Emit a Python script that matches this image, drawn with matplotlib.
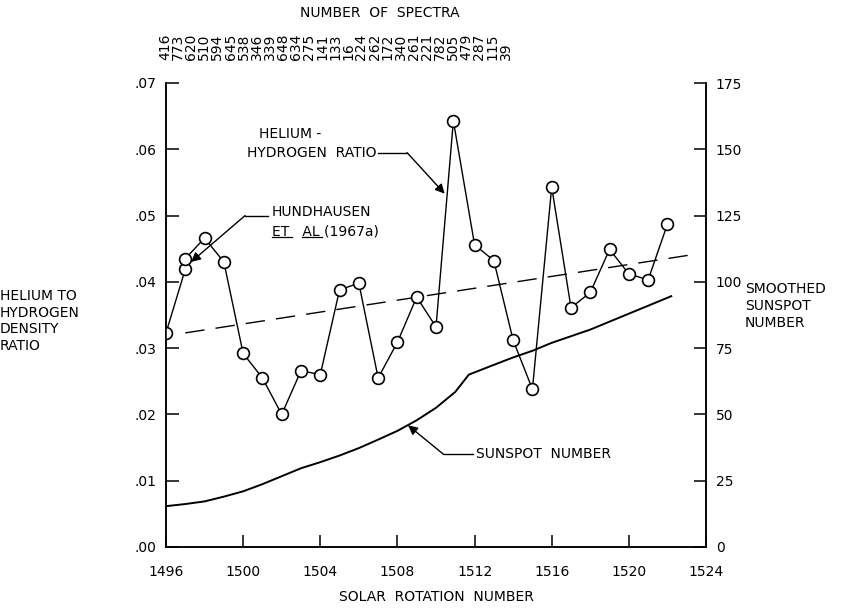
import matplotlib
matplotlib.use("Agg")
import matplotlib.pyplot as plt
import numpy as np

# helium / hydrogen ratio per solar rotation (two points at 1497)
rot = [1496, 1497, 1497, 1498, 1499, 1500, 1501, 1502, 1503, 1504, 1505, 1506, 1507,
       1508, 1509, 1510, 1510.9, 1512, 1513, 1514, 1515, 1516, 1517, 1518, 1519, 1520,
       1521, 1522]
ratio = [0.0323, 0.0419, 0.0435, 0.0466, 0.0430, 0.0292, 0.0255, 0.0200, 0.0266, 0.0260,
         0.0388, 0.0398, 0.0255, 0.0309, 0.0377, 0.0332, 0.0643, 0.0456, 0.0432, 0.0312,
         0.0238, 0.0543, 0.0361, 0.0384, 0.0449, 0.0412, 0.0403, 0.0487]

# smoothed sunspot number (right axis)
ss_rot = [1496, 1497, 1498, 1499, 1500, 1501, 1502, 1503, 1504, 1505, 1506, 1507, 1508,
          1509, 1510, 1511, 1511.7, 1513, 1514, 1515, 1516, 1517, 1518, 1519, 1520, 1521,
          1522.2]
sunspot = [15.4, 16.2, 17.2, 19.0, 21.0, 23.7, 26.7, 29.7, 32.0, 34.5, 37.3, 40.5, 43.8,
           47.8, 52.5, 58.5, 65.0, 68.7, 71.5, 74.0, 77.0, 79.5, 82.0, 85.0, 88.0, 91.0,
           94.6]

# Hundhausen et al (1967a) trend
hund_rot = [1497, 1523.3]
hund_ratio = [0.0323, 0.0441]

spectra = ["416", "773", "620", "510", "594", "645", "538", "346", "339", "648", "634",
           "275", "141", "133", "16", "224", "262", "172", "340", "261", "221", "782",
           "505", "479", "287", "115", "39"]

x_ticks = [1496, 1500, 1504, 1508, 1512, 1516, 1520, 1524]
left_ticks = [0.0, 0.01, 0.02, 0.03, 0.04, 0.05, 0.06, 0.07]
right_ticks = [0, 25, 50, 75, 100, 125, 150, 175]

W, H = 844, 611
fs = 10
plt.rcParams['font.family'] = 'DejaVu Sans'
plt.rcParams['font.size'] = fs


def fx(px):
    return px / W


def fy(py):
    return 1 - py / H


fig = plt.figure(figsize=(W / 100, H / 100), dpi=100)
ax = fig.add_axes([fx(166), fy(547), fx(706) - fx(166), fy(83) - fy(547)])
ax2 = ax.twinx()

ax.set_xlim(1496, 1524)
ax.set_ylim(0, 0.07)
ax2.set_ylim(0, 175)

for a in (ax, ax2):
    a.spines['top'].set_visible(False)
    for s in a.spines.values():
        s.set_linewidth(1.1)

ax.set_xticks(x_ticks)
ax.set_xticklabels([str(t) for t in x_ticks])
ax.set_yticks(left_ticks)
ax.set_yticklabels(['.%02d' % round(t * 100) for t in left_ticks])
ax2.set_yticks(right_ticks)
ax.tick_params(direction='in', length=9, width=1.1, pad=7, labelsize=fs)
ax.tick_params(axis='x', pad=13)
ax2.tick_params(direction='in', length=9, width=1.1, pad=7, labelsize=fs)

# data lines
ax.plot(rot, ratio, '-', color='black', lw=1.0, marker='o', ms=8.5,
        mfc='white', mec='black', mew=1.2, zorder=3)
ax.plot(hund_rot, hund_ratio, color='black', lw=1.0, dashes=(14, 8))
ax2.plot(ss_rot, sunspot, '-', color='black', lw=1.4)

# annotations
arrow = dict(arrowstyle='-|>', color='black', lw=1.0, mutation_scale=14, shrinkA=0, shrinkB=0)
ax.text(1500.8, 0.0623, 'HELIUM -', va='center', ha='left')
ax.text(1500.2, 0.0594, 'HYDROGEN  RATIO', va='center', ha='left')
ax.plot([1507.0, 1508.5], [0.0595, 0.0595], color='black', lw=1.0)
ax.annotate('', xy=(1510.45, 0.0533), xytext=(1508.5, 0.0595), arrowprops=arrow)

ax.text(1501.5, 0.0506, 'HUNDHAUSEN', va='center', ha='left')
ax.text(1501.5, 0.0476, 'ET   AL (1967a)', va='center', ha='left')
ax.plot([1501.5, 1501.5 + 1.05], [0.0468, 0.0468], color='black', lw=0.9)
ax.plot([1503.05, 1503.05 + 1.05], [0.0468, 0.0468], color='black', lw=0.9)
ax.plot([1500.1, 1501.3], [0.0500, 0.0500], color='black', lw=1.0)
ax.annotate('', xy=(1497.3, 0.0430), xytext=(1500.1, 0.0500), arrowprops=arrow)

ax2.text(1512.1, 34.9, 'SUNSPOT  NUMBER', va='center', ha='left')
ax2.plot([1510.4, 1511.9], [34.9, 34.9], color='black', lw=1.0)
ax2.annotate('', xy=(1508.55, 45.9), xytext=(1510.4, 34.9), arrowprops=arrow)

# axis titles as free text blocks
ax.set_xlabel('SOLAR  ROTATION  NUMBER', fontsize=fs, labelpad=8)
fig.text(fx(0), fy(321), 'HELIUM TO\nHYDROGEN\nDENSITY\nRATIO', ha='left', va='center',
         linespacing=1.25)
fig.text(fx(745), fy(306), 'SMOOTHED\nSUNSPOT\nNUMBER', ha='left', va='center',
         linespacing=1.25)

# number of spectra along the top
fig.text(fx(380), fy(13), 'NUMBER  OF  SPECTRA', ha='center', va='center')
for i, lab in enumerate(spectra):
    fig.text(fx(165 + i * 13.1), fy(60), lab, rotation=90, ha='center', va='bottom')

fig.savefig('out.png', dpi=100)
